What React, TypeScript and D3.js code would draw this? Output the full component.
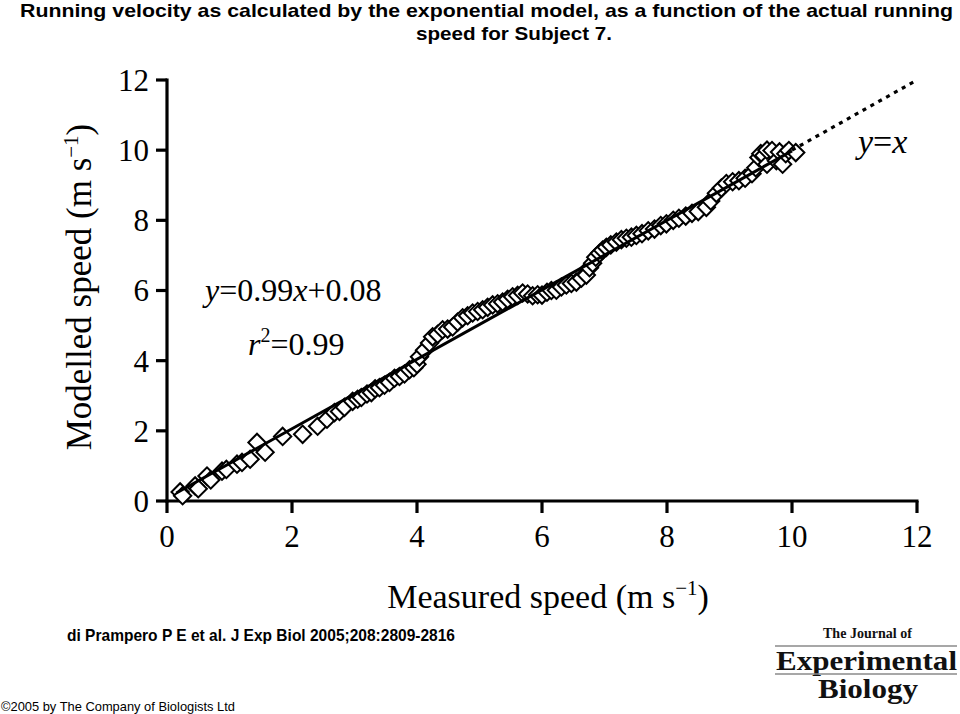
import React from "react";
import * as d3 from "d3";

const measured: number[] = [
  0.21, 0.25, 0.45, 0.5, 0.64, 0.7, 0.88, 0.95, 1.12, 1.2, 1.33, 1.44, 1.57, 1.85, 2.17,
  2.41, 2.56, 2.68, 2.76, 2.84, 2.97, 3.05, 3.11, 3.2, 3.27, 3.33, 3.4, 3.48, 3.56, 3.64,
  3.72, 3.8, 3.88, 3.95, 4.0, 4.04, 4.12, 4.2, 4.25, 4.33, 4.41, 4.49, 4.57, 4.65, 4.73,
  4.81, 4.89, 4.97, 5.05, 5.13, 5.21, 5.29, 5.37, 5.45, 5.53, 5.61, 5.69, 5.77, 5.85, 5.93,
  6.0, 6.08, 6.15, 6.23, 6.31, 6.39, 6.47, 6.55, 6.63, 6.71, 6.76, 6.81, 6.86, 6.92, 6.97,
  7.03, 7.1, 7.19, 7.27, 7.35, 7.43, 7.51, 7.6, 7.7, 7.8, 7.9, 7.99, 8.1, 8.19, 8.3,
  8.4, 8.5, 8.63, 8.7, 8.79, 8.87, 8.95, 9.05, 9.15, 9.25, 9.36, 9.42, 9.47, 9.5, 9.55,
  9.6, 9.6, 9.68, 9.75, 9.8, 9.85, 9.9, 9.95, 10.06,
];
const modelled: number[] = [
  0.26, 0.15, 0.43, 0.35, 0.71, 0.6, 0.85, 0.9, 1.05, 1.1, 1.19, 1.67, 1.39, 1.84, 1.9,
  2.13, 2.33, 2.52, 2.55, 2.67, 2.84, 2.9, 2.95, 3.05, 3.09, 3.2, 3.23, 3.3, 3.38, 3.5,
  3.55, 3.62, 3.74, 3.8, 3.9, 4.11, 4.3, 4.5, 4.68, 4.75, 4.88, 4.9, 4.96, 5.1, 5.22,
  5.28, 5.36, 5.4, 5.45, 5.52, 5.59, 5.62, 5.67, 5.75, 5.82, 5.86, 5.93, 5.9, 5.85, 5.88,
  5.87, 5.95, 6.0, 6.01, 6.1, 6.16, 6.2, 6.24, 6.35, 6.44, 6.65, 6.78, 6.95, 7.06, 7.15,
  7.23, 7.3, 7.38, 7.45, 7.49, 7.52, 7.57, 7.62, 7.7, 7.75, 7.85, 7.9, 8.0, 8.06, 8.12,
  8.2, 8.25, 8.37, 8.55, 8.77, 8.92, 9.05, 9.1, 9.13, 9.2, 9.33, 9.5, 9.79, 9.9, 9.85,
  9.6, 10.0, 9.99, 9.7, 9.95, 9.6, 9.9, 9.99, 9.93,
];

const xTicks: number[] = [0, 2, 4, 6, 8, 10, 12];
const yTicks: number[] = [0, 2, 4, 6, 8, 10, 12];
const fitSlope = 0.99;
const fitIntercept = 0.08;
const fitRange: number[] = [0.15, 10];
const identityRange: number[] = [10, 12];

const serif = "'Liberation Serif', 'Times New Roman', serif";
const sans = "'Liberation Sans', Arial, sans-serif";

export default function App() {
  const x = d3.scaleLinear().domain([0, 12]).range([167, 917]);
  const y = d3.scaleLinear().domain([0, 12]).range([501, 80]);
  const pts = measured.map((m, i) => [m, modelled[i]] as [number, number]);
  const line = d3
    .line<[number, number]>()
    .x((d) => x(d[0]))
    .y((d) => y(d[1]));
  const fitPts: [number, number][] = fitRange.map((v) => [v, fitSlope * v + fitIntercept]);
  const idPts: [number, number][] = identityRange.map((v) => [v, v]);
  const diamond = d3.symbol().type(d3.symbolSquare).size(150)();

  return (
    <svg
      width={960}
      height={714}
      style={{ position: "absolute", left: 0, top: 0, background: "#fff" }}
    >
      <rect x={0} y={0} width={960} height={714} fill="#fff" />
      {/* title */}
      <text x={20} y={17} fontFamily={sans} fontWeight="bold" fontSize={19} textLength={933} lengthAdjust="spacingAndGlyphs">
        Running velocity as calculated by the exponential model, as a function of the actual running
      </text>
      <text x={416} y={40} fontFamily={sans} fontWeight="bold" fontSize={19} textLength={196} lengthAdjust="spacingAndGlyphs">
        speed for Subject 7.
      </text>

      {/* axes */}
      <g stroke="#000" strokeWidth={3.2} fill="none">
        <line x1={x(0)} x2={x(0)} y1={y(12) - 1.5} y2={y(0) + 1.5} />
        <line x1={x(0) - 1.5} x2={x(12) + 1.5} y1={y(0)} y2={y(0)} />
        {xTicks.map((t) => (
          <line key={"xt" + t} x1={x(t)} x2={x(t)} y1={y(0)} y2={y(0) + 12} />
        ))}
        {yTicks.map((t) => (
          <line key={"yt" + t} x1={x(0)} x2={x(0) - 11} y1={y(t)} y2={y(t)} />
        ))}
      </g>
      {xTicks.map((t) => (
        <text key={"xl" + t} x={x(t)} y={y(0) + 46} textAnchor="middle" fontFamily={serif} fontSize={31} fill="#000">
          {t}
        </text>
      ))}
      {yTicks.map((t) => (
        <text key={"yl" + t} x={149} y={y(t)} dy="0.35em" textAnchor="end" fontFamily={serif} fontSize={31} fill="#000">
          {t}
        </text>
      ))}

      {/* axis titles */}
      <text x={548} y={608} textAnchor="middle" fontFamily={serif} fontSize={34} fill="#000">
        Measured speed (m s<tspan dy={-13} fontSize={21}>−1</tspan>
        <tspan dy={13}>)</tspan>
      </text>
      <text transform="translate(91,287) rotate(-90)" textAnchor="middle" fontFamily={serif} fontSize={35} fill="#000">
        Modelled speed (m s<tspan dy={-13} fontSize={21}>−1</tspan>
        <tspan dy={13}>)</tspan>
      </text>

      {/* data */}
      <g>
        {pts.map((d, i) => (
          <path
            key={i}
            d={diamond as string}
            transform={`translate(${x(d[0])},${y(d[1])}) rotate(45)`}
            fill="#fff"
            stroke="#000"
            strokeWidth={2}
          />
        ))}
      </g>
      <path d={line(fitPts) as string} stroke="#000" strokeWidth={3} fill="none" />
      <path d={line(idPts) as string} stroke="#000" strokeWidth={3.2} strokeDasharray="4 5" fill="none" />

      {/* annotations */}
      <text x={205} y={301} fontFamily={serif} fontSize={32} fill="#000">
        <tspan fontStyle="italic">y</tspan>=0.99<tspan fontStyle="italic">x</tspan>+0.08
      </text>
      <text x={248} y={355} fontFamily={serif} fontSize={32} fill="#000">
        <tspan fontStyle="italic">r</tspan>
        <tspan dy={-13} fontSize={20}>2</tspan>
        <tspan dy={13}>=0.99</tspan>
      </text>
      <text x={858} y={153} fontFamily={serif} fontSize={34} fill="#000">
        <tspan fontStyle="italic">y</tspan>=<tspan fontStyle="italic">x</tspan>
      </text>

      {/* citation */}
      <text x={67} y={641} fontFamily={sans} fontWeight="bold" fontSize={16.5} textLength={388} lengthAdjust="spacingAndGlyphs" fill="#000">
        di Prampero P E et al. J Exp Biol 2005;208:2809-2816
      </text>
      <text x={1} y={711} fontFamily={sans} fontSize={13.5} textLength={234} lengthAdjust="spacingAndGlyphs" fill="#000">
        ©2005 by The Company of Biologists Ltd
      </text>

      {/* logo */}
      <text x={823} y={638} fontFamily={serif} fontWeight="bold" fontSize={15} textLength={89} lengthAdjust="spacingAndGlyphs" fill="#111">
        The Journal of
      </text>
      <line x1={775} x2={957} y1={646} y2={646} stroke="#8a8a8a" strokeWidth={1.5} />
      <text x={776} y={670} fontFamily={serif} fontWeight="bold" fontSize={28} textLength={181} lengthAdjust="spacingAndGlyphs" fill="#111">
        Experimental
      </text>
      <line x1={775} x2={957} y1={674} y2={674} stroke="#8a8a8a" strokeWidth={1.5} />
      <text x={818} y={698} fontFamily={serif} fontWeight="bold" fontSize={28} textLength={100} lengthAdjust="spacingAndGlyphs" fill="#111">
        Biology
      </text>
    </svg>
  );
}
